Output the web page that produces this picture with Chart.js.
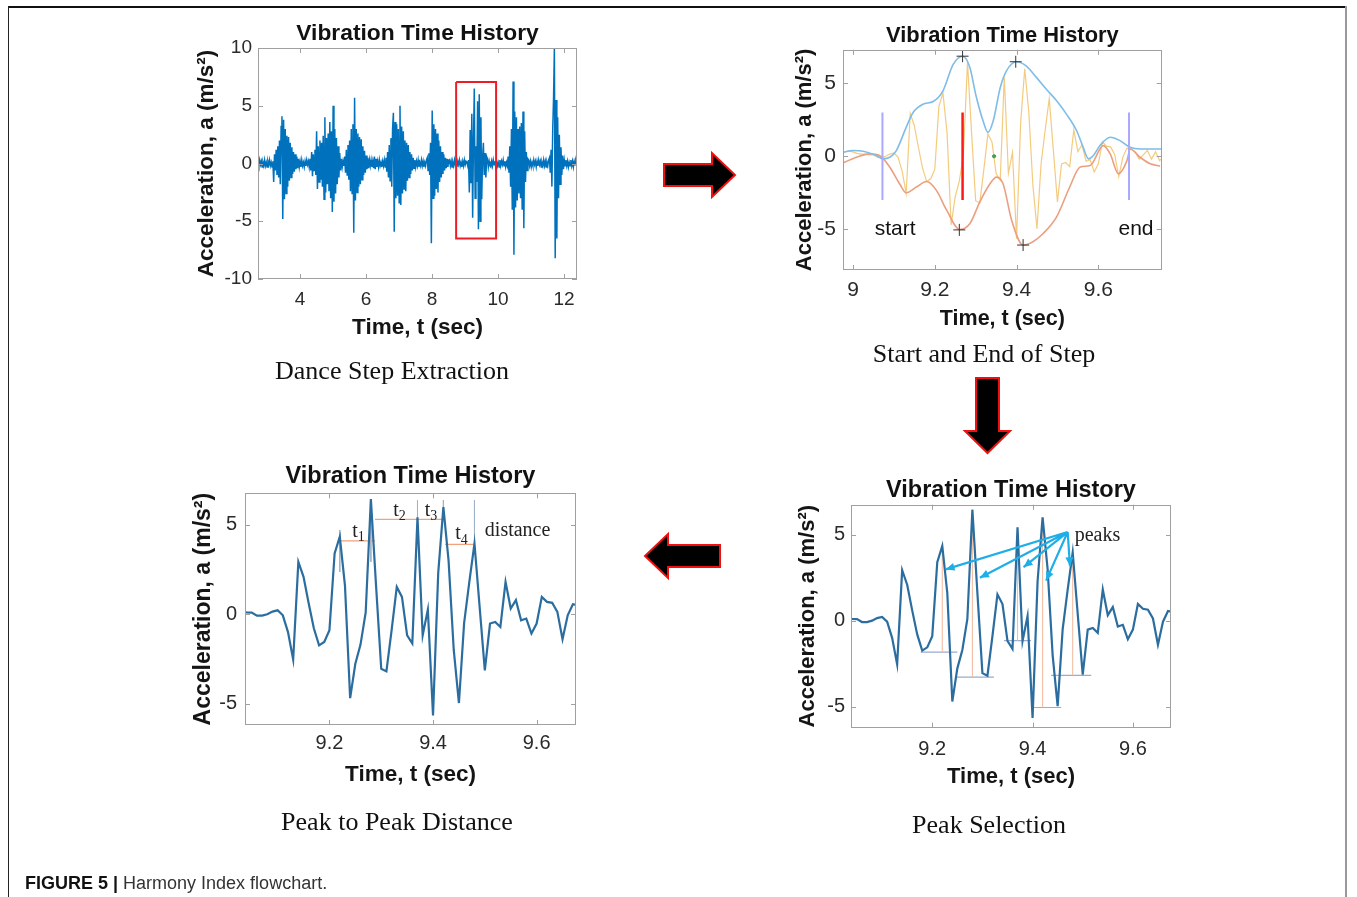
<!DOCTYPE html>
<html>
<head>
<meta charset="utf-8">
<script src="https://cdn.jsdelivr.net/npm/chart.js@4.4.1/dist/chart.umd.min.js"></script>
<style>
  body { margin: 0; background: #fff; width: 1357px; height: 897px; position: relative; overflow: hidden; }
  canvas { position: absolute; }
  .line { position: absolute; }
  .cap { position: absolute; font-family: 'Liberation Serif', 'Times New Roman', serif; font-size: 26px; line-height: 1; color: #111; white-space: nowrap; transform: translateX(-50%); }
  .fig { position: absolute; left: 25px; top: 874px; font-family: 'Liberation Sans', Arial, sans-serif; font-size: 18px; line-height: 1; color: #333; white-space: nowrap; }
  .fig b { color: #111; }
  svg { position: absolute; left: 0; top: 0; }
</style>
</head>
<body>
<div class="line" style="left:8px;top:6px;width:1339px;height:2px;background:#111"></div>
<div class="line" style="left:8px;top:6px;width:1px;height:891px;background:#222"></div>
<div class="line" style="left:1345px;top:6px;width:2px;height:891px;background:#999"></div>

<canvas id="full-chart" width="400" height="330" style="left:185px;top:15px"></canvas>
<canvas id="step-chart" width="385" height="330" style="left:785px;top:15px"></canvas>
<canvas id="distance-chart" width="400" height="345" style="left:185px;top:455px"></canvas>
<canvas id="peaks-chart" width="390" height="335" style="left:790px;top:465px"></canvas>

<svg width="1357" height="897">
  <polygon points="664,164 712,164 712,153 735,175 712,197 712,186 664,186" fill="#000" stroke="#f01010" stroke-width="2"/>
  <polygon points="976,378 999,378 999,431 1010,431 987.5,453 965,431 976,431" fill="#000" stroke="#f01010" stroke-width="2"/>
  <polygon points="645,556 668,534 668,545 720,545 720,567 668,567 668,578" fill="#000" stroke="#f01010" stroke-width="2"/>
</svg>

<div class="cap" style="left:392px;top:358px">Dance Step Extraction</div>
<div class="cap" style="left:984px;top:341px">Start and End of Step</div>
<div class="cap" style="left:397px;top:809px">Peak to Peak Distance</div>
<div class="cap" style="left:989px;top:812px">Peak Selection</div>
<div class="fig"><b>FIGURE 5 |</b> Harmony Index flowchart.</div>

<script>
// full recording, sampled every FULL_DT seconds from FULL_T0
const FULL_T0 = 2.73;
const FULL_DT = 0.025;
const fullSignal = [
    // quiet
    0.1,-0.2,0.3,-0.1,0.2,-0.3,0.1,-0.2,0.3,-0.2,0.1,-0.3,0.2,-0.1,0.3,-0.2,0.1,-0.3,0.2,
    // step 1
    -1.6,0.8,-0.6,1.2,-1.0,1.5,-1.2,2.0,-1.8,3.2,4.1,-4.8,3.8,-3.1,3.0,-2.6,2.4,-2.0,2.3,-1.5,
    1.8,-1.2,1.4,-0.9,1.0,-0.7,0.8,-0.5,0.6,-0.4,0.4,-0.3,
    0.2,-0.3,0.3,-0.2,0.1,-0.3,0.2,-0.2,0.3,-0.1,0.2,-0.3,
    // step 2
    0.4,-0.6,1.0,-1.1,0.8,-0.6,1.2,-1.0,2.8,-2.2,1.5,-1.6,2.0,-1.4,1.8,-2.0,2.4,-3.1,4.0,-2.5,
    2.2,-1.8,2.6,-2.4,3.6,-3.0,2.8,-4.2,5.0,-3.3,3.0,-2.6,2.2,-1.8,1.5,-1.2,0.9,-0.6,0.4,
    -0.3,0.2,-0.2,
    // step 3
    0.6,-0.8,1.2,-1.0,1.6,-1.4,2.0,-2.4,3.0,-2.6,3.4,-6.0,5.7,-3.2,3.0,-2.5,2.6,-2.0,2.3,-1.8,
    2.1,-1.4,1.5,-1.0,1.1,-0.8,0.7,-0.5,0.5,-0.4,0.3,
    -0.2,0.3,-0.3,0.2,-0.4,0.6,-0.5,0.4,-0.3,0.2,-0.3,0.3,-0.2,0.1,-0.3,0.2,-0.2,0.3,-0.3,
    // step 4
    0.5,-0.7,1.0,-1.2,1.6,-1.5,2.2,-2.0,3.0,4.4,-5.9,3.6,-3.0,3.4,-2.8,3.0,-3.4,5.0,-3.6,3.2,
    -2.6,2.8,-2.2,2.0,-2.4,1.8,-1.5,1.6,-1.2,1.0,-0.9,0.8,-0.6,0.5,-0.4,0.3,-0.3,
    0.2,-0.2,0.3,-0.3,0.1,-0.2,0.3,-0.2,0.2,-0.3,0.1,-0.2,0.3,
    // step 5
    0.5,-0.6,0.9,-1.0,1.8,-6.9,4.6,-3.0,3.4,-2.8,3.0,-2.2,2.6,-2.5,2.0,-1.6,1.5,-1.2,1.0,-0.9,
    0.8,-0.6,0.5,-0.4,0.4,-0.3,0.2,
    0.3,-0.2,0.2,-0.3,0.1,-0.2,0.3,-0.1,0.2,-0.3,0.2,-0.1,0.3,-0.2,0.1,-0.3,0.2,-0.2,0.3,-0.1,0.2,
    // step 6 (the one that is zoomed)
    0.1,-0.2,0.3,-2.5,2.9,-1.7,4.3,-4.7,2.0,6.5,-3.0,1.5,-1.6,5.4,-5.7,6.0,-5.0,4.0,-3.1,0.5,
    1.8,-1.0,0.9,-1.2,0.6,0.4,-0.3,0.2,-0.2,
    -0.3,0.2,-0.2,0.3,-0.1,0.2,-0.3,0.2,-0.2,0.1,-0.3,0.3,-0.2,0.2,-0.1,0.3,-0.2,0.2,-0.3,0.1,-0.2,
    // step 7
    0.6,-0.8,1.5,-2.0,3.0,-4.0,7.1,-7.9,4.5,-3.8,4.0,-3.2,3.0,-2.6,3.2,-3.0,3.5,-4.0,4.5,-5.6,
    2.8,-1.6,1.0,-0.6,0.4,
    0.3,-0.2,0.2,-0.3,0.1,-0.2,0.3,-0.1,0.2,-0.3,0.2,-0.2,0.3,-0.1,0.2,-0.3,0.1,-0.2,0.3,-0.2,
    0.2,-0.3,0.1,-0.2,0.3,
    // step 8
    0.5,-0.8,1.2,-2.0,3.0,5.7,10.0,-8.2,5.5,-6.5,4.0,-3.0,2.5,-1.8,1.4,-1.0,0.7,-0.5,0.3,
    -0.2,0.3,-0.2,0.2,-0.3,0.1,-0.2,0.3,-0.2,0.2,-0.3,0.2,-0.1,0.2,-0.1
];
// selected step box (sec, m/s2)
const boxT = [8.73, 9.94];
const boxA = [-6.5, 7.06];

// zoomed step, sampled every 0.01 s from 8.98 s
const DETAIL_T0 = 8.98;
const DETAIL_DT = 0.01;
const detailSignal = [
    0.30, 0.35, 0.30, 0.20, 0.15, 0.15, 0.10, 0.09, -0.08, -0.08,
    0.00, 0.15, 0.22, -0.06, -1.00, -2.54, 2.93, 2.09, 0.60, -0.80,
    -1.74, -1.55, -0.90, 3.40, 4.34, 1.60, -4.70, -2.77, -1.70, 0.10,
    6.45, 1.60, -3.05, -3.20, -0.90, 1.53, 0.97, -1.18, -1.64, 5.42,
    -1.18, 0.26, -5.66, 2.30, 6.00, 3.00, -2.00, -4.97, -0.50, 1.80,
    3.96, 0.40, -3.14, -0.52, -0.43, -0.71, 1.81, 0.32, 0.79, -0.34,
    -0.24, -1.08, -0.52, 0.97, 0.69, 0.64, 0.13, -1.40, -0.06, 0.56,
    0.50, 0.30, -0.20, 0.10, 0.40, -0.20, 0.30, -0.30, 0.00
];

// envelopes of the step
const upperT = [8.976, 9.0, 9.025, 9.057, 9.073, 9.09, 9.106, 9.13, 9.147, 9.171, 9.196, 9.22, 9.245, 9.268,
    9.286, 9.30, 9.318, 9.33, 9.343, 9.36, 9.375, 9.40, 9.424, 9.449, 9.473, 9.498, 9.522, 9.547, 9.563,
    9.576, 9.588, 9.604, 9.629, 9.653, 9.678, 9.702, 9.755];
const upperA = [0.27, 0.39, 0.34, 0.05, -0.18, -0.07, 0.39, 1.98, 3.0, 3.57, 3.75, 4.48, 6.3, 6.86,
    6.07, 4.25, 2.43, 1.64, 2.43, 4.7, 5.84, 6.48, 6.18, 5.39, 4.59, 3.8, 2.89, 1.75, 0.61,
    -0.18, 0.05, 0.73, 1.3, 1.07, 0.61, 0.5, 0.5];
const lowerT = [8.976, 9.008, 9.04, 9.065, 9.09, 9.114, 9.13, 9.155, 9.18, 9.204, 9.229, 9.261, 9.286, 9.31,
    9.335, 9.351, 9.367, 9.388, 9.416, 9.44, 9.465, 9.498, 9.53, 9.555, 9.58, 9.612, 9.629, 9.649, 9.67,
    9.678, 9.702, 9.727, 9.751];
const lowerA = [-0.45, -0.07, 0.16, 0.05, -0.75, -1.89, -2.5, -2.11, -1.73, -2.34, -3.7, -5.02, -4.61, -3.14,
    -1.89, -1.43, -1.89, -4.39, -6.09, -5.86, -5.3, -4.16, -2.11, -0.75, -0.64, 0.73, 0.16, -1.2, -0.3,
    0.5, -0.07, -0.52, -0.68];
const envPeakT = [9.268, 9.398, 9.26, 9.416];
const envPeakA = [6.86, 6.48, -5.05, -6.09];
const stepStart = 9.072;
const stepEnd = 9.675;
const stepMid = 9.268;
const centreT = 9.345;

// detected peaks
const peakT = [9.22, 9.28, 9.37, 9.42, 9.48];
const peakA = [4.34, 6.45, 5.42, 6.00, 3.96];
const peakBase = [-1.83, -3.28, -1.16, -5.05, -3.18];
const peakBaseFrom = [9.177, 9.247, 9.343, 9.397, 9.437];
const peakBaseTo = [9.250, 9.323, 9.397, 9.457, 9.517];

// peak to peak distances
const distFrom = [9.221, 9.288, 9.368, 9.423];
const distTo = [9.288, 9.368, 9.417, 9.478];
const distLevel = [4.11, 5.31, 5.31, 3.91];
const markTop = [4.71, 6.30, 6.39, 6.39, 6.39];
const markBottom = [2.37, 2.93, 5.36, 5.50, 3.96];
const distLabels = ['1', '2', '3', '4'];

// arrows to the peaks
const arrowFrom = [9.47, 5.15];
const arrowToT = [9.2266, 9.295, 9.382, 9.427, 9.4746];
const arrowToA = [2.98, 2.49, 3.11, 2.33, 3.17];

const xTicksLabel = 'Time, t (sec)';
const yTicksLabel = 'Acceleration, a (m/s\u00B2)';
const plotTitle = 'Vibration Time History';

const SANS = "'Liberation Sans', Arial, Helvetica, sans-serif";
const SERIF = "'Liberation Serif', 'Times New Roman', serif";

function series(ts, as) {
    return ts.map((t, i) => ({ x: t, y: as[i] }));
}
function sampled(t0, dt, as) {
    return as.map((a, i) => ({ x: +(t0 + i * dt).toFixed(4), y: a }));
}
// list of [x1, y1, x2, y2] -> broken line data
function segments(list) {
    const out = [];
    list.forEach(s => {
        out.push({ x: s[0], y: s[1] }, { x: s[2], y: s[3] }, { x: s[2], y: null });
    });
    return out;
}
// MATLAB prints 9 not 9.0
const plainTick = (v) => String(+Number(v).toFixed(3));

// MATLAB style box with inward ticks
const matlabBox = {
    id: 'matlabBox',
    afterDatasetsDraw(chart) {
        const { ctx, chartArea: a, scales: { x, y } } = chart;
        ctx.save();
        ctx.strokeStyle = '#a0a0a0';
        ctx.lineWidth = 1;
        ctx.strokeRect(Math.round(a.left) + 0.5, Math.round(a.top) + 0.5, Math.round(a.width) - 1, Math.round(a.height) - 1);
        ctx.beginPath();
        x.ticks.forEach(t => {
            const p = Math.round(x.getPixelForValue(t.value)) + 0.5;
            ctx.moveTo(p, a.bottom); ctx.lineTo(p, a.bottom - 5);
            ctx.moveTo(p, a.top); ctx.lineTo(p, a.top + 5);
        });
        y.ticks.forEach(t => {
            const p = Math.round(y.getPixelForValue(t.value)) + 0.5;
            ctx.moveTo(a.left, p); ctx.lineTo(a.left + 5, p);
            ctx.moveTo(a.right, p); ctx.lineTo(a.right - 5, p);
        });
        ctx.stroke();
        ctx.restore();
    }
};

// text placed in data units
const textMarks = {
    id: 'textMarks',
    afterDatasetsDraw(chart, args, opts) {
        const items = (opts && opts.items) || [];
        const { ctx, scales: { x, y } } = chart;
        ctx.save();
        items.forEach(it => {
            const px = x.getPixelForValue(it.x);
            const py = y.getPixelForValue(it.y);
            ctx.fillStyle = it.color || '#111';
            ctx.font = it.size + 'px ' + it.family;
            ctx.textBaseline = 'middle';
            ctx.textAlign = it.align || 'left';
            ctx.fillText(it.text, px, py);
            if (it.sub) {
                const w = ctx.measureText(it.text).width;
                const start = it.align === 'center' ? px + w / 2 : px + w;
                ctx.font = Math.round(it.size * 0.68) + 'px ' + it.family;
                ctx.textAlign = 'left';
                ctx.fillText(it.sub, start, py + it.size * 0.3);
            }
        });
        ctx.restore();
    }
};

// arrow heads at the end of the arrow shafts
const arrowHeads = {
    id: 'arrowHeads',
    afterDatasetsDraw(chart, args, opts) {
        if (!opts || !opts.to) return;
        const { ctx, scales: { x, y } } = chart;
        const fx = x.getPixelForValue(opts.from[0]);
        const fy = y.getPixelForValue(opts.from[1]);
        ctx.save();
        ctx.fillStyle = opts.color;
        opts.to.forEach(p => {
            const tx = x.getPixelForValue(p[0]);
            const ty = y.getPixelForValue(p[1]);
            const ang = Math.atan2(ty - fy, tx - fx);
            const len = 9, half = 4;
            ctx.beginPath();
            ctx.moveTo(tx, ty);
            ctx.lineTo(tx - len * Math.cos(ang) + half * Math.sin(ang), ty - len * Math.sin(ang) - half * Math.cos(ang));
            ctx.lineTo(tx - len * Math.cos(ang) - half * Math.sin(ang), ty - len * Math.sin(ang) + half * Math.cos(ang));
            ctx.closePath();
            ctx.fill();
        });
        ctx.restore();
    }
};

function layoutOf(o) {
    return {
        responsive: false,
        animation: false,
        events: [],
        layout: { padding: { left: 0, right: o.padRight, top: 0, bottom: 0 } },
        elements: { point: { radius: 0 }, line: { tension: 0 } },
        scales: {
            x: {
                type: 'linear', min: o.xMin, max: o.xMax,
                afterFit: (s) => { s.height = o.xAxisH; },
                grid: { display: false, drawTicks: false }, border: { display: false },
                ticks: { stepSize: o.xStep, includeBounds: false, autoSkip: false, maxRotation: 0, callback: plainTick,
                    padding: o.xTickPad, color: '#2a2a2a', font: { family: SANS, size: o.tickSize } },
                title: { display: true, text: xTicksLabel, color: '#151515',
                    font: { family: SANS, size: o.xTitleSize, weight: 'bold' }, padding: { top: 0, bottom: o.xTitlePad } }
            },
            y: {
                type: 'linear', min: o.yMin, max: o.yMax,
                afterFit: (s) => { s.width = o.yAxisW; },
                grid: { display: false, drawTicks: false }, border: { display: false },
                ticks: { stepSize: o.yStep, includeBounds: false, autoSkip: false, callback: plainTick,
                    padding: o.yTickPad, color: '#2a2a2a', font: { family: SANS, size: o.tickSize } },
                title: { display: true, text: yTicksLabel, color: '#151515',
                    font: { family: SANS, size: o.yTitleSize, weight: 'bold' }, padding: { top: o.yTitlePad, bottom: 0 } }
            }
        },
        plugins: {
            legend: { display: false },
            tooltip: { enabled: false },
            title: { display: true, text: plotTitle, fullSize: false, color: '#111',
                font: { family: SANS, size: o.titleSize, weight: 'bold', lineHeight: 1.2 },
                padding: { top: o.titlePadTop, bottom: o.titlePadBottom } },
            textMarks: { items: o.texts || [] },
            arrowHeads: o.arrows || {}
        }
    };
}

// chart for the whole recording
new Chart(document.getElementById('full-chart'), {
    type: 'line',
    data: {
        datasets: [
            {
                label: 'selection',
                data: [
                    { x: boxT[0], y: boxA[1] }, { x: boxT[1], y: boxA[1] }, { x: boxT[1], y: boxA[0] },
                    { x: boxT[0], y: boxA[0] }, { x: boxT[0], y: boxA[1] }
                ],
                borderColor: '#ee1c25',
                borderWidth: 2,
            },
            {
                label: 'acceleration',
                data: sampled(FULL_T0, FULL_DT, fullSignal),
                borderColor: '#0072BD',
                borderWidth: 1.5,
            },
        ],
    },
    options: layoutOf({
        padRight: 8, xMin: 2.73, xMax: 12.39, xStep: 2, yMin: -10, yMax: 10, yStep: 5,
        xAxisH: 66, yAxisW: 73, tickSize: 19, xTickPad: 9, yTickPad: 6,
        xTitleSize: 22.5, xTitlePad: 3.5, yTitleSize: 22.5, yTitlePad: 8.5,
        titleSize: 22.8, titlePadTop: 5.5, titlePadBottom: 0.2
    }),
    plugins: [matlabBox]
});

// chart for the start and end of the step
new Chart(document.getElementById('step-chart'), {
    type: 'line',
    data: {
        datasets: [
            {
                label: 'envelope peaks',
                data: series(envPeakT, envPeakA),
                showLine: false,
                pointStyle: 'cross',
                pointRadius: 6,
                pointBorderWidth: 1,
                borderColor: '#333',
                order: 0,
            },
            {
                label: 'centre',
                data: segments([[stepMid, 3, stepMid, -3]]),
                borderColor: '#ff1a1a',
                borderWidth: 2.5,
                order: 1,
            },
            {
                label: 'start / end',
                data: segments([[stepStart, 3, stepStart, -3], [stepEnd, 3, stepEnd, -3]]),
                borderColor: '#a9a9ff',
                borderWidth: 2,
                order: 2,
            },
            {
                label: 'centre point',
                data: [{ x: centreT, y: 0 }],
                showLine: false,
                pointRadius: 1.6,
                backgroundColor: '#44a044',
                borderColor: '#44a044',
                order: 3,
            },
            {
                label: 'upper envelope',
                data: series(upperT, upperA),
                borderColor: '#7dbde8',
                borderWidth: 1.6,
                cubicInterpolationMode: 'monotone',
                order: 4,
            },
            {
                label: 'lower envelope',
                data: series(lowerT, lowerA),
                borderColor: '#ec9f80',
                borderWidth: 1.6,
                cubicInterpolationMode: 'monotone',
                order: 5,
            },
            {
                label: 'acceleration',
                data: sampled(DETAIL_T0, DETAIL_DT, detailSignal),
                borderColor: 'rgba(240,190,95,0.8)',
                borderWidth: 1.2,
                order: 6,
            },
        ],
    },
    options: layoutOf({
        padRight: 8.3, xMin: 8.9755, xMax: 9.755, xStep: 0.2, yMin: -7.8, yMax: 7.3, yStep: 5,
        xAxisH: 75, yAxisW: 58, tickSize: 21, xTickPad: 7.4, yTickPad: 7,
        xTitleSize: 21.5, xTitlePad: 13, yTitleSize: 22, yTitlePad: 6.5,
        titleSize: 21.9, titlePadTop: 8, titlePadBottom: 0.5,
        texts: [
            { x: 9.053, y: -5, text: 'start', size: 21, family: SANS },
            { x: 9.735, y: -5, text: 'end', size: 21, family: SANS, align: 'right' }
        ]
    }),
    plugins: [matlabBox, textMarks]
});

// chart for peak to peak distance
new Chart(document.getElementById('distance-chart'), {
    type: 'line',
    data: {
        datasets: [
            {
                label: 'distance',
                data: segments(distFrom.map((t, i) => [t, distLevel[i], distTo[i], distLevel[i]])),
                borderColor: '#f0a27c',
                borderWidth: 1.2,
                order: 1,
            },
            {
                label: 'peak marks',
                data: segments(peakT.map((t, i) => [t, markTop[i], t, markBottom[i]])),
                borderColor: '#9fb3c8',
                borderWidth: 1,
                order: 2,
            },
            {
                label: 'acceleration',
                data: sampled(DETAIL_T0, DETAIL_DT, detailSignal),
                borderColor: '#2b6d9f',
                borderWidth: 2.2,
                order: 0,
            },
        ],
    },
    options: layoutOf({
        padRight: 9, xMin: 9.037, xMax: 9.676, xStep: 0.2, yMin: -6.2, yMax: 6.77, yStep: 5,
        xAxisH: 75, yAxisW: 60, tickSize: 20, xTickPad: 6.5, yTickPad: 8,
        xTitleSize: 22.5, xTitlePad: 11.5, yTitleSize: 23, yTitlePad: 4.5,
        titleSize: 23.5, titlePadTop: 7.5, titlePadBottom: 2.6,
        texts: distLabels.map((d, i) => ({
            x: [9.244, 9.323, 9.384, 9.443][i], y: [4.62, 5.79, 5.79, 4.49][i],
            text: 't', sub: d, size: 20, family: SERIF, color: '#222'
        })).concat([{ x: 9.50, y: 4.67, text: 'distance', size: 20, family: SERIF, color: '#222' }])
    }),
    plugins: [matlabBox, textMarks]
});

// chart for peak selection
new Chart(document.getElementById('peaks-chart'), {
    type: 'line',
    data: {
        datasets: [
            {
                label: 'arrows',
                data: segments(arrowToT.map((t, i) => [arrowFrom[0], arrowFrom[1], t, arrowToA[i]])),
                borderColor: '#1eaee8',
                borderWidth: 2.2,
                order: 0,
            },
            {
                label: 'acceleration',
                data: sampled(DETAIL_T0, DETAIL_DT, detailSignal),
                borderColor: '#2b6d9f',
                borderWidth: 2.2,
                order: 1,
            },
            {
                label: 'prominence',
                data: segments(peakT.map((t, i) => [t, peakA[i], t, peakBase[i]])),
                borderColor: '#f4bda2',
                borderWidth: 1.1,
                order: 2,
            },
            {
                label: 'reference',
                data: segments(peakBaseFrom.map((t, i) => [t, peakBase[i], peakBaseTo[i], peakBase[i]])),
                borderColor: '#9aabd0',
                borderWidth: 1.1,
                order: 3,
            },
        ],
    },
    options: layoutOf({
        padRight: 9, xMin: 9.038, xMax: 9.676, xStep: 0.2, yMin: -6.22, yMax: 6.74, yStep: 5,
        xAxisH: 72.3, yAxisW: 61, tickSize: 20, xTickPad: 10, yTickPad: 6,
        xTitleSize: 22, xTitlePad: 10, yTitleSize: 22, yTitlePad: 5,
        titleSize: 23.5, titlePadTop: 11.5, titlePadBottom: 0,
        texts: [{ x: 9.484, y: 4.96, text: 'peaks', size: 20, family: SERIF, color: '#222' }],
        arrows: { from: arrowFrom, to: arrowToT.map((t, i) => [t, arrowToA[i]]), color: '#1eaee8' }
    }),
    plugins: [matlabBox, textMarks, arrowHeads]
});
</script>
</body>
</html>
